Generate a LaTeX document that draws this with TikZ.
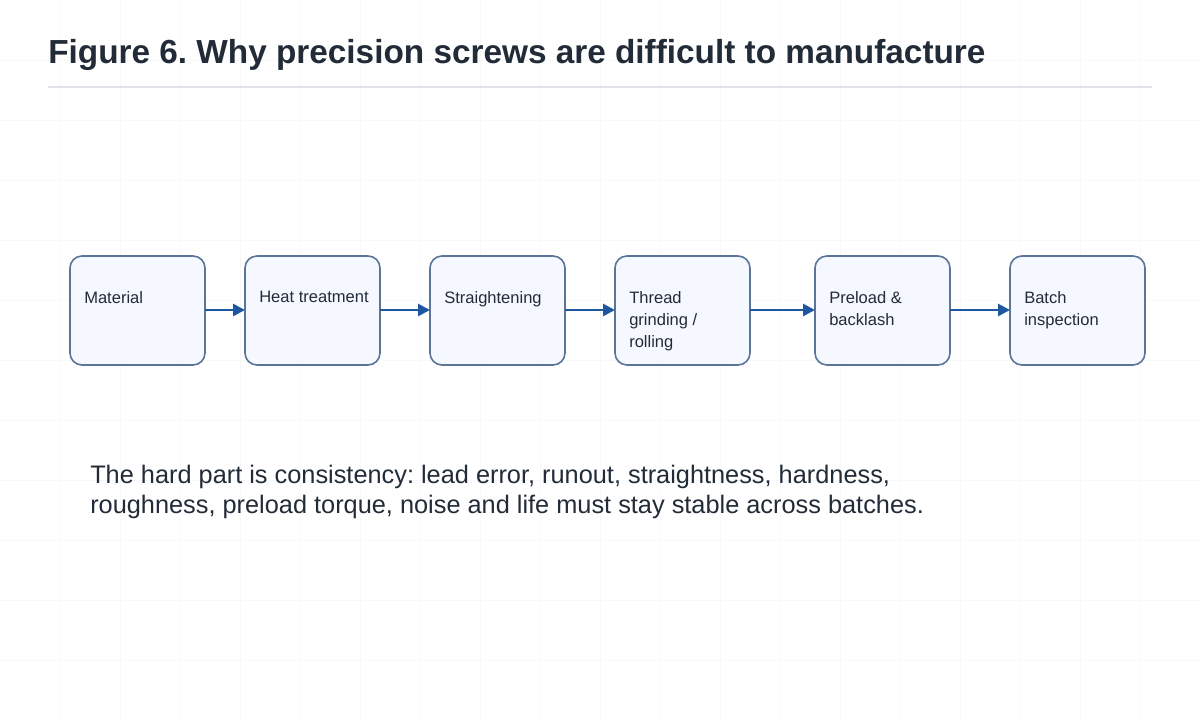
\documentclass[tikz,border=0pt]{standalone}
\usepackage{fontspec}
\setmainfont{Liberation Sans}
\usetikzlibrary{arrows.meta}
\definecolor{boxfill}{HTML}{F5F9FF}
\definecolor{boxdraw}{HTML}{5B7599}
\definecolor{arr}{HTML}{1F56A0}
\definecolor{txt}{HTML}{222B38}
\definecolor{gridc}{HTML}{F7F8FA}
\definecolor{rulec}{HTML}{E0E3EA}
\begin{document}
\frenchspacing
\begin{tikzpicture}[x=0.75pt,y=-0.75pt,
  box/.style={draw=boxdraw,line width=1.2pt,fill=boxfill,rounded corners=9pt},
  lab/.style={anchor=north west,text=txt,font=\fontsize{12.4}{16.5}\selectfont,align=left,inner sep=0pt},
  con/.style={draw=arr,line width=2pt,-{Triangle[length=9pt,width=9pt]}}]
\useasboundingbox (0,0) rectangle (1200,720);
\fill[white] (0,0) rectangle (1200,720);
\foreach \x in {60,120,...,1140} \draw[gridc,line width=0.6pt] (\x,0) -- (\x,720);
\foreach \y in {60,120,...,660} \draw[gridc,line width=0.6pt] (0,\y) -- (1200,\y);
\node[anchor=base west,inner sep=0pt,text=txt,font=\fontsize{25}{30}\selectfont\bfseries] (title) at (48,64) {Figure 6. Why precision screws are difficult to manufacture};
\draw[color=rulec,line width=1pt] (48,87) coordinate (r1) -- (1152,87) coordinate (r2);
\foreach \n/\a/\b/\t in {a/70/205/Material, b/245/380/Heat treatment, c/430/565/Straightening, d/615/750/{Thread\\grinding /\\rolling}, e/815/950/{Preload \&\\backlash}, f/1010/1145/{Batch\\inspection}}{
  \path[box] (\a,256) rectangle (\b,365);
  \coordinate (\n L) at (\a,310);
  \coordinate (\n R) at (\b,310);
  \node[lab] (\n) at (\a+14,291) {\t};
}
\draw[con] (aR) -- (bL);
\draw[con] (bR) -- (cL);
\draw[con] (cR) -- (dL);
\draw[con] (dR) -- (eL);
\draw[con] (eR) -- (fL);
\node[anchor=base west,inner sep=0pt,text=txt,align=left,font=\fontsize{19}{22.5}\selectfont] (note) at (90,513) {The hard part is consistency: lead error, runout, straightness, hardness,\\roughness, preload torque, noise and life must stay stable across batches.};
\end{tikzpicture}
\end{document}
